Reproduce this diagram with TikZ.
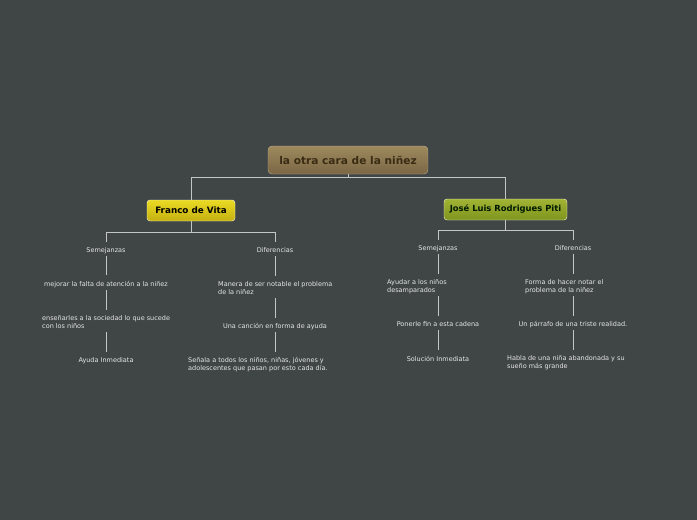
\documentclass[tikz,border=0pt]{standalone}
\usepackage{fontspec}
\setmainfont{DejaVu Sans}
\definecolor{bg}{HTML}{404646}
\definecolor{ln}{HTML}{C4C6C6}
\definecolor{txt}{HTML}{E6E6E6}
\definecolor{rootT}{HTML}{9E8A5E}
\definecolor{rootB}{HTML}{7A6644}
\definecolor{rootTx}{HTML}{3A2C14}
\definecolor{yT}{HTML}{EADA24}
\definecolor{yB}{HTML}{C4B010}
\definecolor{gT}{HTML}{A2B434}
\definecolor{gB}{HTML}{7E941E}
\begin{document}
\begin{tikzpicture}[x=1pt,y=-1pt,
  conn/.style={draw=ln,line width=0.9pt},
  leaf/.style={text=txt,font=\fontsize{6.5}{8}\selectfont,inner sep=0pt,yshift=-1.5pt},
  mleaf/.style={leaf,align=left,anchor=west},
  rootbox/.style={draw=rootT!70!white,rounded corners=4pt,top color=rootT,bottom color=rootB,
     minimum width=160pt,minimum height=28pt,font=\fontsize{10.6}{12}\selectfont\bfseries,text=rootTx},
  mainbox/.style={draw=white!85!yellow,rounded corners=3pt,minimum height=21pt,
     font=\fontsize{8.4}{10}\selectfont\bfseries,text=black}
]
\fill[bg] (0,0) rectangle (697,520);
\useasboundingbox (0,0) rectangle (697,520);

% main nodes
\node[rootbox] (root) at (348,160) {la otra cara de la niñez};
\node[mainbox,top color=yT,bottom color=yB,minimum width=88pt,font=\fontsize{8.8}{10}\selectfont\bfseries] (fv) at (191,210.5) {Franco de Vita};
\node[mainbox,top color=gT,bottom color=gB,minimum width=123pt,text=black!90!green] (jl) at (505.5,209.5) {José Luis Rodrigues Piti};

\coordinate (rj) at (348,177.5);
\draw[conn] (root.south) -- (rj);
\draw[conn] (fv.north) |- (rj) -| (jl.north);

% Franco subtree
\node[leaf] (s1) at (106,249) {Semejanzas};
\node[leaf] (d1) at (275,249) {Diferencias};
\node[leaf] (a1) at (106,283) {mejorar la falta de atención a la niñez};
\node[mleaf] (a2) at (42,321) {enseñarles a la sociedad lo que sucede\\con los niños};
\node[leaf] (a3) at (106,359) {Ayuda Inmediata};
\node[mleaf] (b1) at (218,287) {Manera de ser notable el problema\\de la niñez};
\node[leaf] (b2) at (275,325) {Una canción en forma de ayuda};
\node[mleaf] (b3) at (188,363) {Señala a todos los niños, niñas, jóvenes y\\adolescentes que pasan por esto cada día.};

\coordinate (fj) at (191,232.5);
\coordinate (s1t) at (106,242);
\coordinate (d1t) at (275,242);
\draw[conn] (fv.south) -- (fj);
\draw[conn] (s1t) |- (fj) -| (d1t);

\coordinate (a1t) at (106,275); \coordinate (s1b) at (106,256);
\coordinate (a1b) at (106,290); \coordinate (a2t) at (106,310);
\coordinate (a2b) at (106,332); \coordinate (a3t) at (106,352);
\draw[conn] (s1b) -- (a1t);
\draw[conn] (a1b) -- (a2t);
\draw[conn] (a2b) -- (a3t);
\coordinate (d1b) at (275,256); \coordinate (b1t) at (275,276);
\coordinate (b1b) at (275,298); \coordinate (b2t) at (275,318);
\coordinate (b2b) at (275,332); \coordinate (b3t) at (275,352);
\draw[conn] (d1b) -- (b1t);
\draw[conn] (b1b) -- (b2t);
\draw[conn] (b2b) -- (b3t);

% Jose subtree
\node[leaf] (s2) at (438,247) {Semejanzas};
\node[leaf] (d2) at (573,247) {Diferencias};
\node[mleaf] (e1) at (387,285) {Ayudar a los niños\\desamparados};
\node[leaf] (e2) at (438,323) {Ponerle fin a esta cadena};
\node[leaf] (e3) at (438,357) {Solución Inmediata};
\node[mleaf] (f1) at (525,285) {Forma de hacer notar el\\problema de la niñez};
\node[leaf] (f2) at (573,323) {Un párrafo de una triste realidad.};
\node[mleaf] (f3) at (507,361) {Habla de una niña abandonada y su\\sueño más grande};

\coordinate (jj) at (505.5,230.5);
\coordinate (s2t) at (438,240);
\coordinate (d2t) at (573,240);
\draw[conn] (jl.south) -- (jj);
\draw[conn] (s2t) |- (jj) -| (d2t);

\coordinate (s2b) at (438,254); \coordinate (e1t) at (438,274);
\coordinate (e1b) at (438,296); \coordinate (e2t) at (438,316);
\coordinate (e2b) at (438,330); \coordinate (e3t) at (438,350);
\draw[conn] (s2b) -- (e1t);
\draw[conn] (e1b) -- (e2t);
\draw[conn] (e2b) -- (e3t);
\coordinate (d2b) at (573,254); \coordinate (f1t) at (573,274);
\coordinate (f1b) at (573,296); \coordinate (f2t) at (573,316);
\coordinate (f2b) at (573,330); \coordinate (f3t) at (573,350);
\draw[conn] (d2b) -- (f1t);
\draw[conn] (f1b) -- (f2t);
\draw[conn] (f2b) -- (f3t);
\end{tikzpicture}
\end{document}
